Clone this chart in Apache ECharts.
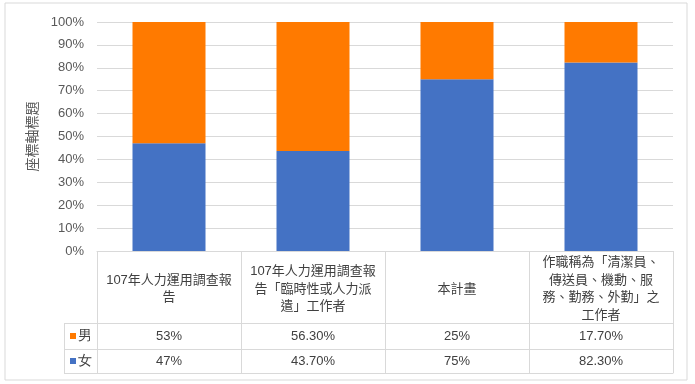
<!DOCTYPE html>
<html>
<head>
<meta charset="utf-8">
<script src="https://cdn.jsdelivr.net/npm/echarts@6/dist/echarts.min.js"></script>
<style>
html,body{margin:0;padding:0;background:#fff;}
#c{width:695px;height:384px;}
</style>
</head>
<body>
<div id="c"></div>
<script>
var categories = [
  '107年人力運用調查報\n告',
  '107年人力運用調查報\n告「臨時性或人力派\n遣」工作者',
  '本計畫',
  '作職稱為「清潔員、\n傳送員、機動、服\n務、勤務、外勤」之\n工作者'
];
var maleValues = [53, 56.3, 25, 17.7];
var femaleValues = [47, 43.7, 75, 82.3];
var maleText = ['53%', '56.30%', '25%', '17.70%'];
var femaleText = ['47%', '43.70%', '75%', '82.30%'];
var seriesNames = ['男', '女'];
var yTicks = [0, 10, 20, 30, 40, 50, 60, 70, 80, 90, 100];
var yTitle = '座標軸標題';

var FONT = '"Liberation Sans", "Noto Sans CJK TC", sans-serif';
var BLUE = '#4472c4', ORANGE = '#ff7a00', LINE = '#d9d9d9', TXT = '#404040';

var chart = echarts.init(document.getElementById('c'));
var option = {
  animation: false,
  textStyle: {fontFamily: FONT},
  grid: {left: 97, right: 22, top: 22, bottom: 133},
  xAxis: [
    {
      type: 'category', data: categories, gridIndex: 0, position: 'bottom',
      axisLine: {show: true, lineStyle: {color: LINE}},
      axisTick: {show: true, length: 122, interval: 0, lineStyle: {color: LINE}},
      axisLabel: {interval: 0, margin: 38, verticalAlign: 'middle', lineHeight: 17.7,
        fontSize: 13, color: TXT, fontFamily: FONT, align: 'center'}
    },
    {
      type: 'category', data: maleText, gridIndex: 0, position: 'bottom', offset: 72,
      axisLine: {show: true, lineStyle: {color: LINE}}, axisTick: {show: false},
      axisLabel: {interval: 0, margin: 13, verticalAlign: 'middle', fontSize: 13, color: TXT, fontFamily: FONT}
    },
    {
      type: 'category', data: femaleText, gridIndex: 0, position: 'bottom', offset: 98,
      axisLine: {show: true, lineStyle: {color: LINE}}, axisTick: {show: false},
      axisLabel: {interval: 0, margin: 12, verticalAlign: 'middle', fontSize: 13, color: TXT, fontFamily: FONT}
    },
    {
      type: 'category', data: categories, gridIndex: 0, position: 'bottom', offset: 122,
      axisLine: {show: true, lineStyle: {color: LINE}}, axisTick: {show: false},
      axisLabel: {show: false}
    }
  ],
  yAxis: {
    type: 'value', min: yTicks[0], max: yTicks[yTicks.length - 1], interval: 10,
    name: yTitle, nameLocation: 'middle', nameGap: 56, nameRotate: 90,
    nameTextStyle: {fontSize: 14, color: '#595959', fontFamily: FONT},
    axisLine: {show: false}, axisTick: {show: false},
    axisLabel: {formatter: '{value}%', margin: 13, fontSize: 13, color: '#595959', fontFamily: FONT},
    splitLine: {lineStyle: {color: LINE}}
  },
  series: [
    {name: seriesNames[1], type: 'bar', stack: 's', data: femaleValues, barWidth: 73,
     itemStyle: {color: BLUE}},
    {name: seriesNames[0], type: 'bar', stack: 's', data: maleValues, barWidth: 73,
     itemStyle: {color: ORANGE}}
  ],
  graphic: [
    {type: 'rect', shape: {x: 5, y: 3, width: 682, height: 377}, style: {fill: null, stroke: '#d9d9d9', lineWidth: 1}, silent: true},
    {type: 'line', shape: {x1: 64, y1: 323.5, x2: 97, y2: 323.5}, style: {stroke: LINE, lineWidth: 1}},
    {type: 'line', shape: {x1: 64, y1: 349.5, x2: 97, y2: 349.5}, style: {stroke: LINE, lineWidth: 1}},
    {type: 'line', shape: {x1: 64, y1: 373.5, x2: 97, y2: 373.5}, style: {stroke: LINE, lineWidth: 1}},
    {type: 'line', shape: {x1: 64.5, y1: 323, x2: 64.5, y2: 374}, style: {stroke: LINE, lineWidth: 1}},
    {type: 'rect', shape: {x: 70, y: 333, width: 6, height: 6}, style: {fill: ORANGE}},
    {type: 'text', style: {x: 78, y: 336, text: seriesNames[0], fontSize: 14, fill: TXT, verticalAlign: 'middle', font: '14px ' + FONT}},
    {type: 'rect', shape: {x: 70, y: 358, width: 6, height: 6}, style: {fill: BLUE}},
    {type: 'text', style: {x: 78, y: 361, text: seriesNames[1], fontSize: 14, fill: TXT, verticalAlign: 'middle', font: '14px ' + FONT}}
  ]
};
chart.setOption(option);
</script>
</body>
</html>
